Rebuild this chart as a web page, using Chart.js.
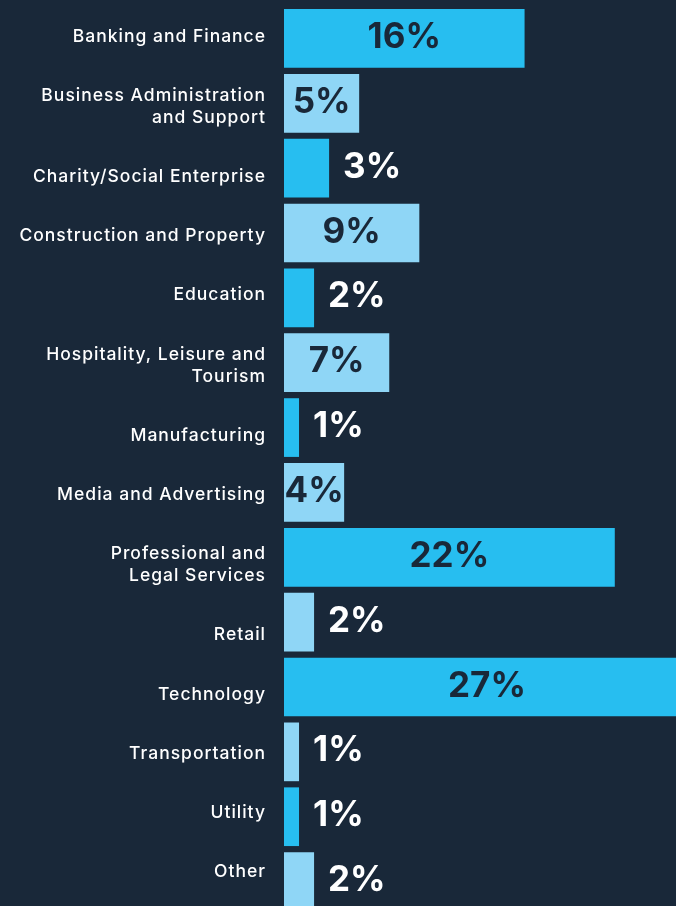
<!DOCTYPE html>
<html>
<head>
<meta charset="utf-8">
<script src="https://cdn.jsdelivr.net/npm/chart.js@4/dist/chart.umd.min.js"></script>
<style>
    html, body { margin: 0; padding: 0; background: #192839; overflow: hidden; }
    #wrap { position: absolute; left: 0; top: 0; width: 705px; height: 914px; }
</style>
</head>
<body>
<div id="wrap"><canvas id="sectorChart"></canvas></div>
<script>
const categories = [
    'Banking and Finance',
    ['Business Administration', 'and Support'],
    'Charity/Social Enterprise',
    'Construction and Property',
    'Education',
    ['Hospitality, Leisure and', 'Tourism'],
    'Manufacturing',
    'Media and Advertising',
    ['Professional and', 'Legal Services'],
    'Retail',
    'Technology',
    'Transportation',
    'Utility',
    'Other'
];
const percentages = [16, 5, 3, 9, 2, 7, 1, 4, 22, 2, 27, 1, 1, 2];
const valueLabels = ['16%', '5%', '3%', '9%', '2%', '7%', '1%', '4%', '22%', '2%', '27%', '1%', '1%', '2%'];

const BG = '#192839';
const CYAN = '#27bef0';
const LIGHT = '#8fd6f6';

document.addEventListener("DOMContentLoaded", function() {
    const ctx = document.getElementById('sectorChart').getContext('2d');

    // alternate colours row by row
    const barColors = percentages.map((v, i) => i % 2 === 0 ? CYAN : LIGHT);

    // wider tracking for the category names
    const spacingPlugin = {
        id: 'spacingPlugin',
        beforeDraw(chart) { chart.ctx.letterSpacing = '1px'; },
        afterDraw(chart) { chart.ctx.letterSpacing = '0px'; }
    };

    // the names run as a text column: two-line names push the next ones down a bit
    const labelFlowPlugin = {
        id: 'labelFlowPlugin',
        beforeDraw(chart) {
            const scale = chart.scales.y;
            const items = scale.getLabelItems(chart.chartArea);
            let y = scale.getPixelForTick(0) - 2;
            let prevLines = 1;
            items.forEach((item, i) => {
                const lines = Array.isArray(item.label) ? item.label.length : 1;
                if (i > 0) {
                    y += 59.2 + 11 * (prevLines - 1) + 11 * (lines - 1);
                }
                item.options.translation[1] = y;
                prevLines = lines;
            });
        }
    };

    // draws the percentage on (or next to) each bar
    const valuePlugin = {
        id: 'valuePlugin',
        afterDatasetsDraw(chart) {
            const c = chart.ctx;
            const bars = chart.getDatasetMeta(0).data;
            c.save();
            c.letterSpacing = '0px';
            c.font = '700 35px Inter';
            c.textBaseline = 'middle';
            bars.forEach((bar, i) => {
                if (percentages[i] >= 4) {
                    c.fillStyle = BG;
                    c.textAlign = 'center';
                    c.fillText(valueLabels[i], (bar.x + bar.base) / 2, bar.y - 1);
                } else {
                    c.fillStyle = '#ffffff';
                    c.textAlign = 'left';
                    c.fillText(valueLabels[i], bar.x + 14, bar.y - 1);
                }
            });
            c.restore();
        }
    };

    new Chart(ctx, {
        type: 'bar',
        data: {
            labels: categories,
            datasets: [{
                data: percentages,
                backgroundColor: barColors,
                borderWidth: 0,
                barPercentage: 0.905,
                categoryPercentage: 1
            }]
        },
        options: {
            indexAxis: 'y',
            responsive: true,
            maintainAspectRatio: false,
            animation: false,
            layout: { padding: { top: 6, left: 0, right: 0, bottom: 0 } },
            plugins: {
                legend: { display: false },
                tooltip: { enabled: false }
            },
            scales: {
                x: {
                    min: 0,
                    max: 28,
                    display: false
                },
                y: {
                    afterFit(scale) {
                        scale.width = 284;
                        scale.paddingTop = 0;    // no extra room for first/last label
                        scale.paddingBottom = 0;
                    },
                    border: { display: false },
                    grid: { display: false, drawTicks: false },
                    ticks: {
                        color: '#ffffff',
                        padding: 18,
                        font: { family: 'Inter', size: 17.5, weight: '500', lineHeight: 1.26 }
                    }
                }
            }
        },
        plugins: [spacingPlugin, labelFlowPlugin, valuePlugin]
    });
});
</script>
</body>
</html>
